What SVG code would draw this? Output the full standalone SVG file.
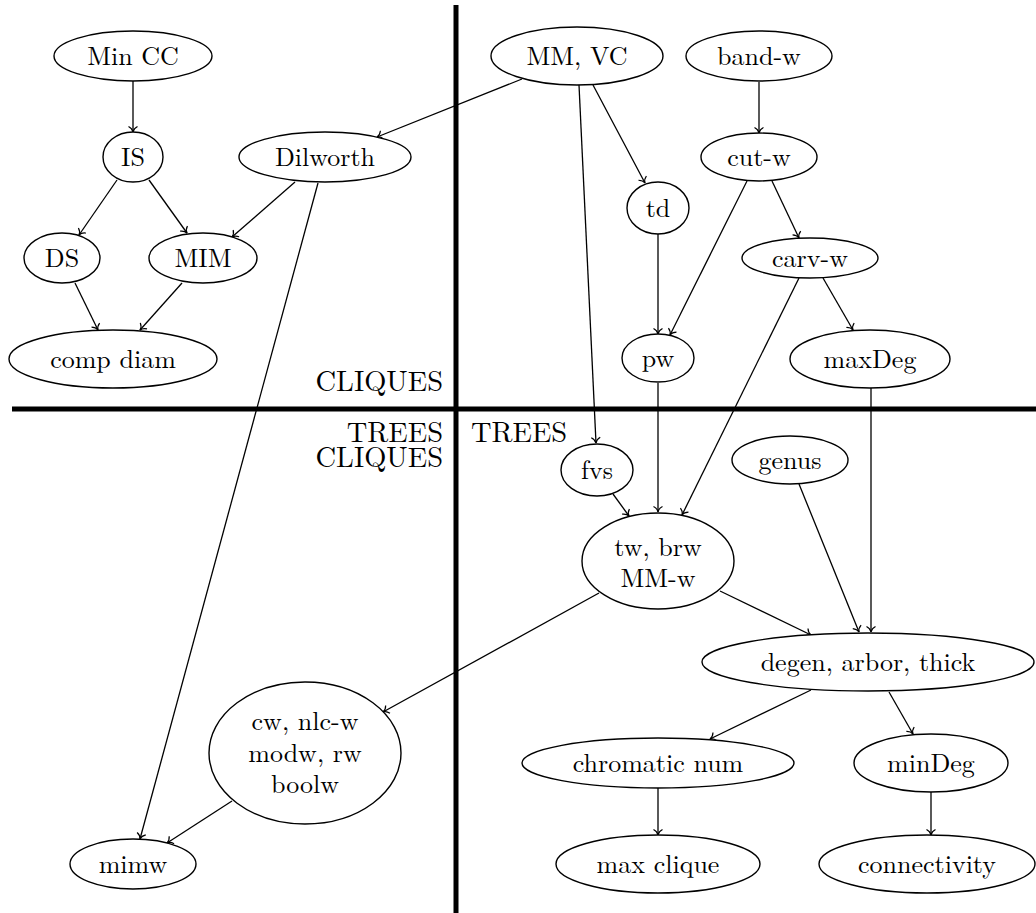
<svg xmlns="http://www.w3.org/2000/svg" width="1036" height="913" viewBox="0 0 1036 913" font-family="Latin Modern Roman, Liberation Serif, serif" font-size="26">
<defs>
<style>
.n ellipse{fill:#fff;stroke:#000;stroke-width:1.4}
text{fill:#000}
.n text{text-anchor:middle}
.lab{font-size:28.5px}
.e line{stroke:#000;stroke-width:1.3;marker-end:url(#arr)}
.div line{stroke:#000;stroke-width:5}
</style>
<marker id="arr" markerUnits="userSpaceOnUse" viewBox="-7 -6 8 12" markerWidth="8" markerHeight="12" refX="0" refY="0" orient="auto" overflow="visible">
<path d="M-5.5,-4.5 C-4,-1.6 -1.6,-0.3 0,0 C-1.6,0.3 -4,1.6 -5.5,4.5" fill="none" stroke="#000" stroke-width="1.2"/>
</marker>
</defs>
<rect width="1036" height="913" fill="#fff"/>
<g class="div">
<line x1="456" y1="5" x2="456" y2="913"/>
<line x1="12" y1="409" x2="1036" y2="409"/>
</g>
<g class="labels">
<text class="lab" x="443" y="391" text-anchor="end">CLIQUES</text>
<text class="lab" text-anchor="end"><tspan x="443" y="442">TREES</tspan><tspan x="443" y="467">CLIQUES</tspan></text>
<text class="lab" x="471" y="442">TREES</text>
</g>
<g class="e">
<line x1="133" y1="81" x2="133" y2="132"/>
<line x1="117" y1="180" x2="79" y2="235"/>
<line x1="149" y1="180" x2="187" y2="233"/>
<line x1="295" y1="182" x2="232" y2="237"/>
<line x1="75" y1="283" x2="98" y2="330"/>
<line x1="182" y1="283" x2="140" y2="330"/>
<line x1="522" y1="79" x2="377" y2="137"/>
<line x1="318" y1="183" x2="140" y2="839"/>
<line x1="579" y1="85" x2="596" y2="443"/>
<line x1="593" y1="85" x2="645" y2="183"/>
<line x1="759" y1="82" x2="759" y2="133"/>
<line x1="747" y1="181" x2="670" y2="335"/>
<line x1="772" y1="181" x2="799" y2="238"/>
<line x1="658" y1="233" x2="658" y2="334"/>
<line x1="799" y1="278" x2="682" y2="515"/>
<line x1="823" y1="278" x2="853" y2="330"/>
<line x1="658" y1="383" x2="658" y2="512"/>
<line x1="871" y1="388" x2="871" y2="632"/>
<line x1="613" y1="494" x2="629" y2="516"/>
<line x1="599" y1="593" x2="383" y2="712"/>
<line x1="720" y1="591" x2="811" y2="635"/>
<line x1="799" y1="484" x2="859" y2="632"/>
<line x1="811" y1="690" x2="710" y2="739"/>
<line x1="889" y1="692" x2="913" y2="734"/>
<line x1="658" y1="788" x2="658" y2="835"/>
<line x1="931" y1="792" x2="931" y2="835"/>
<line x1="232" y1="801" x2="167" y2="843"/>
</g>
<g class="n" id="mincc"><ellipse cx="133" cy="56" rx="79" ry="25"/><text x="133" y="65">Min CC</text></g>
<g class="n" id="is"><ellipse cx="133" cy="157" rx="30" ry="25"/><text x="133" y="166">IS</text></g>
<g class="n" id="dilworth"><ellipse cx="325" cy="157" rx="86" ry="25"/><text x="325" y="166">Dilworth</text></g>
<g class="n" id="ds"><ellipse cx="62" cy="258" rx="38" ry="25"/><text x="62" y="267">DS</text></g>
<g class="n" id="mim"><ellipse cx="203" cy="258" rx="54" ry="25"/><text x="203" y="267">MIM</text></g>
<g class="n" id="compdiam"><ellipse cx="113" cy="359" rx="104" ry="29"/><text x="113" y="368">comp diam</text></g>
<g class="n" id="mmvc"><ellipse cx="577" cy="56" rx="86" ry="29"/><text x="577" y="65">MM, VC</text></g>
<g class="n" id="bandw"><ellipse cx="759" cy="56" rx="73" ry="25"/><text x="759" y="65">band-w</text></g>
<g class="n" id="cutw"><ellipse cx="759" cy="157" rx="58" ry="24"/><text x="759" y="166">cut-w</text></g>
<g class="n" id="td"><ellipse cx="658" cy="208" rx="31" ry="26"/><text x="658" y="217">td</text></g>
<g class="n" id="carvw"><ellipse cx="810" cy="258" rx="68" ry="20"/><text x="810" y="267">carv-w</text></g>
<g class="n" id="pw"><ellipse cx="658" cy="358" rx="36" ry="24"/><text x="658" y="367">pw</text></g>
<g class="n" id="maxdeg"><ellipse cx="870" cy="359" rx="80" ry="29"/><text x="870" y="368">maxDeg</text></g>
<g class="n" id="fvs"><ellipse cx="597" cy="470" rx="36" ry="26"/><text x="597" y="479">fvs</text></g>
<g class="n" id="genus"><ellipse cx="790" cy="460" rx="58" ry="24"/><text x="790" y="469">genus</text></g>
<g class="n" id="tw"><ellipse cx="658" cy="561" rx="76" ry="48"/><text><tspan x="658" y="556">tw, brw</tspan><tspan x="658" y="587">MM-w</tspan></text></g>
<g class="n" id="degen"><ellipse cx="868" cy="662" rx="166" ry="29"/><text x="868" y="671">degen, arbor, thick</text></g>
<g class="n" id="cw"><ellipse cx="305" cy="753" rx="96" ry="71"/><text><tspan x="305" y="730">cw, nlc-w</tspan><tspan x="305" y="762">modw, rw</tspan><tspan x="305" y="793">boolw</tspan></text></g>
<g class="n" id="chromatic"><ellipse cx="658" cy="763" rx="136" ry="25"/><text x="658" y="772">chromatic num</text></g>
<g class="n" id="mindeg"><ellipse cx="931" cy="763" rx="77" ry="29"/><text x="931" y="772">minDeg</text></g>
<g class="n" id="mimw"><ellipse cx="133" cy="864" rx="63" ry="25"/><text x="133" y="873">mimw</text></g>
<g class="n" id="maxclique"><ellipse cx="658" cy="864" rx="102" ry="29"/><text x="658" y="873">max clique</text></g>
<g class="n" id="connectivity"><ellipse cx="927" cy="864" rx="108" ry="29"/><text x="927" y="873">connectivity</text></g>
</svg>
